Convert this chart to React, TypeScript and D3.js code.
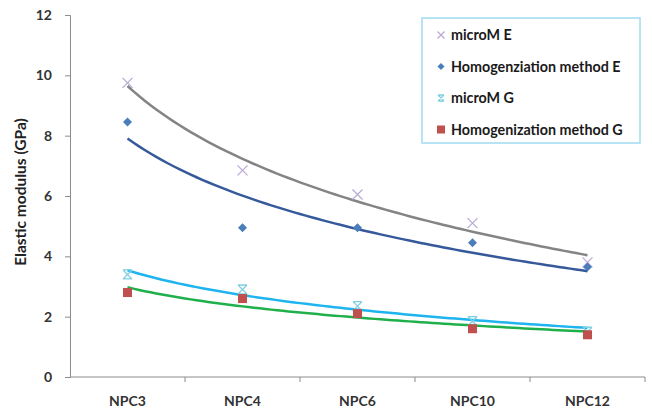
import { useEffect, useRef } from 'react';
import * as d3 from 'd3';

const categories = ['NPC3', 'NPC4', 'NPC6', 'NPC10', 'NPC12'];
const yTicks = [0, 2, 4, 6, 8, 10, 12];
const microME = [9.75, 6.85, 6.05, 5.1, 3.8];
const homogE = [8.45, 4.95, 4.95, 4.45, 3.65];
const microMG = [3.4, 2.9, 2.35, 1.85, 1.5];
const homogG = [2.8, 2.6, 2.1, 1.6, 1.4];

const seriesNames = ['microM E', 'Homogenziation method E', 'microM G', 'Homogenization method G'];

// Excel-style logarithmic trendline: y = a + b ln(x), x = 1..n
function logFit(vals: number[]) {
  const xs = vals.map((_, i) => Math.log(i + 1));
  const mx = d3.mean(xs)!;
  const my = d3.mean(vals)!;
  const sxy = d3.sum(xs, (x, i) => (x - mx) * (vals[i] - my));
  const sxx = d3.sum(xs, x => (x - mx) ** 2);
  const b = sxy / sxx;
  const a = my - b * mx;
  return (x: number) => a + b * Math.log(x);
}

export default function App() {
  const ref = useRef<SVGSVGElement>(null);

  useEffect(() => {
    const width = 652;
    const height = 409;
    const left = 70;
    const right = 645;
    const top = 15;
    const bottom = 377;
    const font = 'Lato, "Open Sans", sans-serif';

    const svg = d3.select(ref.current).attr('width', width).attr('height', height);
    svg.selectAll('*').remove();

    const x = d3.scaleBand().domain(categories).range([left, right]);
    const y = d3.scaleLinear().domain([0, 12]).range([bottom, top]);
    const cx = (i: number) => x(categories[i])! + x.bandwidth() / 2;

    // axes
    const yAxis = svg
      .append('g')
      .attr('transform', `translate(${left},0)`)
      .call(d3.axisLeft(y).tickValues(yTicks).tickSize(5).tickPadding(13));
    yAxis.select('.domain').attr('stroke', '#8c8c8c');
    yAxis.selectAll('.tick line').attr('stroke', '#8c8c8c');
    yAxis
      .selectAll('.tick text')
      .attr('font-family', font)
      .attr('font-size', 14)
      .attr('font-weight', 'bold')
      .attr('fill', '#333');

    const xg = svg.append('g');
    xg.append('line')
      .attr('x1', left)
      .attr('x2', right)
      .attr('y1', bottom)
      .attr('y2', bottom)
      .attr('stroke', '#8c8c8c');
    categories.forEach(c => {
      const bx = x(c)! + x.bandwidth();
      xg.append('line')
        .attr('x1', bx)
        .attr('x2', bx)
        .attr('y1', bottom)
        .attr('y2', bottom + 5)
        .attr('stroke', '#8c8c8c');
    });
    xg.selectAll('text.cat')
      .data(categories)
      .join('text')
      .attr('class', 'cat')
      .attr('x', (_, i) => cx(i))
      .attr('y', bottom + 29)
      .attr('text-anchor', 'middle')
      .attr('font-family', font)
      .attr('font-size', 14)
      .attr('font-weight', 'bold')
      .attr('fill', '#333')
      .text(d => d);

    svg
      .append('text')
      .attr('transform', `translate(26,${192}) rotate(-90)`)
      .attr('text-anchor', 'middle')
      .attr('font-family', font)
      .attr('font-size', 15.5)
      .attr('font-weight', 'bold')
      .attr('fill', '#222')
      .text('Elastic modulus (GPa)');

    // trendlines
    const trends = [
      { vals: microME, color: '#848484' },
      { vals: homogE, color: '#35599a' },
      { vals: microMG, color: '#1fb4f0' },
      { vals: homogG, color: '#1fb04c' },
    ];
    const tx = d3.scaleLinear().domain([1, categories.length]).range([cx(0), cx(categories.length - 1)]);
    trends.forEach(t => {
      const f = logFit(t.vals);
      const pts = d3.range(1, categories.length + 0.001, 0.05).map(v => [tx(v), y(f(v))] as [number, number]);
      svg
        .append('path')
        .attr('d', d3.line()(pts))
        .attr('fill', 'none')
        .attr('stroke', t.color)
        .attr('stroke-width', 2.5);
    });

    // markers
    const drawX = (g: any, px: number, py: number, s: number) => {
      g.append('path')
        .attr('d', `M${px - s},${py - s}L${px + s},${py + s}M${px - s},${py + s}L${px + s},${py - s}`)
        .attr('stroke', '#b9aad6')
        .attr('stroke-width', 1.3)
        .attr('fill', 'none');
    };
    const drawStar = (g: any, px: number, py: number, s: number) => {
      g.append('path')
        .attr(
          'd',
          `M${px - s},${py - s}L${px + s},${py + s}M${px - s},${py + s}L${px + s},${py - s}M${px - s},${py - s}L${px + s},${py - s}M${px - s},${py + s}L${px + s},${py + s}`
        )
        .attr('stroke', '#7fcfdf')
        .attr('stroke-width', 1.3)
        .attr('fill', 'none');
    };
    const drawDiamond = (g: any, px: number, py: number, s: number) => {
      g.append('path')
        .attr('d', `M${px},${py - s}L${px + s},${py}L${px},${py + s}L${px - s},${py}Z`)
        .attr('fill', '#4a7ebb');
    };
    const drawSquare = (g: any, px: number, py: number, s: number) => {
      g.append('rect')
        .attr('x', px - s)
        .attr('y', py - s)
        .attr('width', 2 * s)
        .attr('height', 2 * s)
        .attr('fill', '#c0504d');
    };

    const mg = svg.append('g');
    microME.forEach((v, i) => drawX(mg, cx(i), y(v), 5));
    homogE.forEach((v, i) => drawDiamond(mg, cx(i), y(v), 4.5));
    microMG.forEach((v, i) => drawStar(mg, cx(i), y(v), 4.5));
    homogG.forEach((v, i) => drawSquare(mg, cx(i), y(v), 4.5));

    // legend
    const lg = svg.append('g');
    lg.append('rect')
      .attr('x', 422)
      .attr('y', 18)
      .attr('width', 218)
      .attr('height', 125)
      .attr('fill', '#fff')
      .attr('stroke', '#9fdcf2')
      .attr('stroke-width', 1.5);
    const drawers = [drawX, drawDiamond, drawStar, drawSquare];
    const sizes = [3.5, 3.5, 3, 4];
    seriesNames.forEach((name, i) => {
      const ly = 35 + i * 31.5;
      drawers[i](lg, 441, ly, sizes[i]);
      lg.append('text')
        .attr('x', 451)
        .attr('y', ly + 5)
        .attr('font-family', font)
        .attr('font-size', 14.3)
        .attr('font-weight', 'bold')
        .attr('fill', '#1a1a1a')
        .text(name);
    });
  }, []);

  return <svg ref={ref} style={{ position: 'absolute', left: 0, top: 0 }} />;
}
